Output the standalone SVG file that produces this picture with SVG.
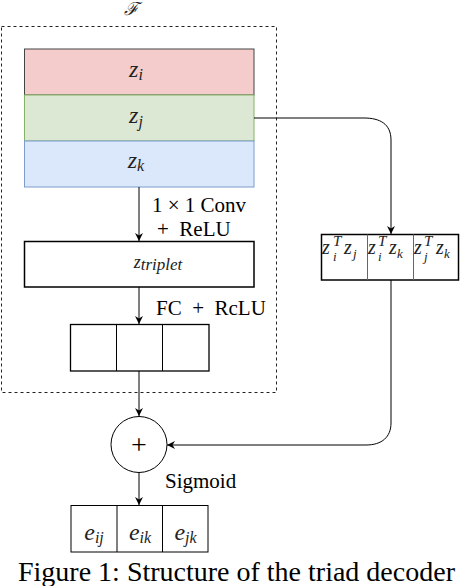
<svg xmlns="http://www.w3.org/2000/svg" width="460" height="586" viewBox="0 0 460 586">
<style>
  .m { font-family: "Liberation Serif", "Times New Roman", serif; font-style: italic; fill: #222; }
  .t { font-family: "Liberation Serif", "Times New Roman", serif; fill: #000; white-space: pre; }
  .box { fill: #fff; stroke: #000; }
  .con { fill: none; stroke: #000; stroke-width: 1; }
  .div { stroke: #000; stroke-width: 1; }
</style>
<defs>
  <marker id="arr" markerUnits="userSpaceOnUse" markerWidth="9" markerHeight="9" refX="8" refY="4" orient="auto">
    <path d="M0,0 L8,4 L0,8 L2.5,4 Z" fill="#000"/>
  </marker>
</defs>

<g id="frameF">
  <rect x="1.5" y="26.5" width="275" height="366" fill="none" stroke="#222" stroke-width="1" stroke-dasharray="3 3"/>
  <text class="m" x="131" y="15" font-size="18" text-anchor="middle">ℱ</text>
</g>

<g id="zi">
  <rect x="24.5" y="49" width="229.5" height="46" fill="#f3cccb" stroke="#444" stroke-width="1"/>
  <text class="m" x="136" y="77" text-anchor="middle"><tspan font-size="24">z</tspan><tspan font-size="16" dy="3">i</tspan></text>
</g>
<g id="zj">
  <rect x="24.5" y="95" width="229.5" height="46" fill="#dce7d4" stroke="#82b366" stroke-width="1"/>
  <text class="m" x="136" y="123" text-anchor="middle"><tspan font-size="24">z</tspan><tspan font-size="16" dy="4">j</tspan></text>
</g>
<g id="zk">
  <rect x="24.5" y="141" width="229.5" height="46" fill="#dbe7fb" stroke="#7d9bcb" stroke-width="1"/>
  <text class="m" x="136" y="168" text-anchor="middle"><tspan font-size="24">z</tspan><tspan font-size="16" dy="3">k</tspan></text>
</g>

<g id="ztriplet">
  <rect class="box" x="24.5" y="241.5" width="229.5" height="45.5" stroke-width="1.5"/>
  <text class="m" x="158" y="268" text-anchor="middle"><tspan font-size="18">z</tspan><tspan font-size="17" dy="2">triplet</tspan></text>
</g>

<g id="fc">
  <rect class="box" x="70.5" y="324.5" width="138.5" height="46.5" stroke-width="1.3"/>
  <line class="div" x1="116.5" y1="324.5" x2="116.5" y2="371"/>
  <line class="div" x1="162.5" y1="324.5" x2="162.5" y2="371"/>
</g>

<g id="dots">
  <rect class="box" x="321.5" y="234.5" width="137" height="45.5" stroke-width="1.5"/>
  <line x1="367.5" y1="234.5" x2="367.5" y2="280" stroke="#666" stroke-width="1"/>
  <line x1="413.5" y1="234.5" x2="413.5" y2="280" stroke="#666" stroke-width="1"/>
  <text class="m" font-size="20"><tspan x="322" y="254">z</tspan><tspan x="333" y="246" font-size="15">T</tspan><tspan x="333" y="261" font-size="13">i</tspan><tspan x="344" y="254">z</tspan><tspan x="353" y="258" font-size="13">j</tspan></text>
  <text class="m" font-size="20"><tspan x="368" y="254">z</tspan><tspan x="378" y="246" font-size="15">T</tspan><tspan x="378" y="261" font-size="13">i</tspan><tspan x="389" y="254">z</tspan><tspan x="397" y="258" font-size="13">k</tspan></text>
  <text class="m" font-size="20"><tspan x="414" y="254">z</tspan><tspan x="424" y="246" font-size="15">T</tspan><tspan x="424" y="261" font-size="13">j</tspan><tspan x="436" y="254">z</tspan><tspan x="444" y="258" font-size="13">k</tspan></text>
</g>

<g id="plus">
  <circle cx="139" cy="444.5" r="28" fill="#fff" stroke="#000" stroke-width="1"/>
  <text class="t" x="139" y="454" font-size="28" text-anchor="middle">+</text>
</g>

<g id="out">
  <rect class="box" x="71" y="505.5" width="137" height="46.5" stroke-width="1"/>
  <line class="div" x1="117" y1="505.5" x2="117" y2="552"/>
  <line class="div" x1="162.5" y1="505.5" x2="162.5" y2="552"/>
  <text class="m" x="94" y="540" text-anchor="middle"><tspan font-size="24">e</tspan><tspan font-size="16" dy="3">ij</tspan></text>
  <text class="m" x="140" y="540" text-anchor="middle"><tspan font-size="24">e</tspan><tspan font-size="16" dy="3">ik</tspan></text>
  <text class="m" x="185.5" y="540" text-anchor="middle"><tspan font-size="24">e</tspan><tspan font-size="16" dy="3">jk</tspan></text>
</g>

<g id="connectors">
  <path class="con" d="M139,187 V241" marker-end="url(#arr)"/>
  <path class="con" d="M139,287 V324" marker-end="url(#arr)"/>
  <path class="con" d="M139,371 V416" marker-end="url(#arr)"/>
  <path class="con" d="M139,472.5 V505" marker-end="url(#arr)"/>
  <path class="con" d="M254,118 H364 C380,118 391,124 391,140 V234" marker-end="url(#arr)"/>
  <path class="con" d="M391,280 V423 C391,437 382,445 366,445 H167" marker-end="url(#arr)"/>
</g>

<g id="labels">
  <text class="t" x="152" y="212" font-size="21" xml:space="preserve">1 × 1 Conv</text>
  <text class="t" x="157" y="236" font-size="21" xml:space="preserve">+  ReLU</text>
  <text class="t" x="156" y="315" font-size="21" xml:space="preserve">FC  +  RcLU</text>
  <text class="t" x="165" y="488" font-size="21">Sigmoid</text>
  <text class="t" x="18" y="581" font-size="28">Figure 1: Structure of the triad decoder</text>
</g>
</svg>
